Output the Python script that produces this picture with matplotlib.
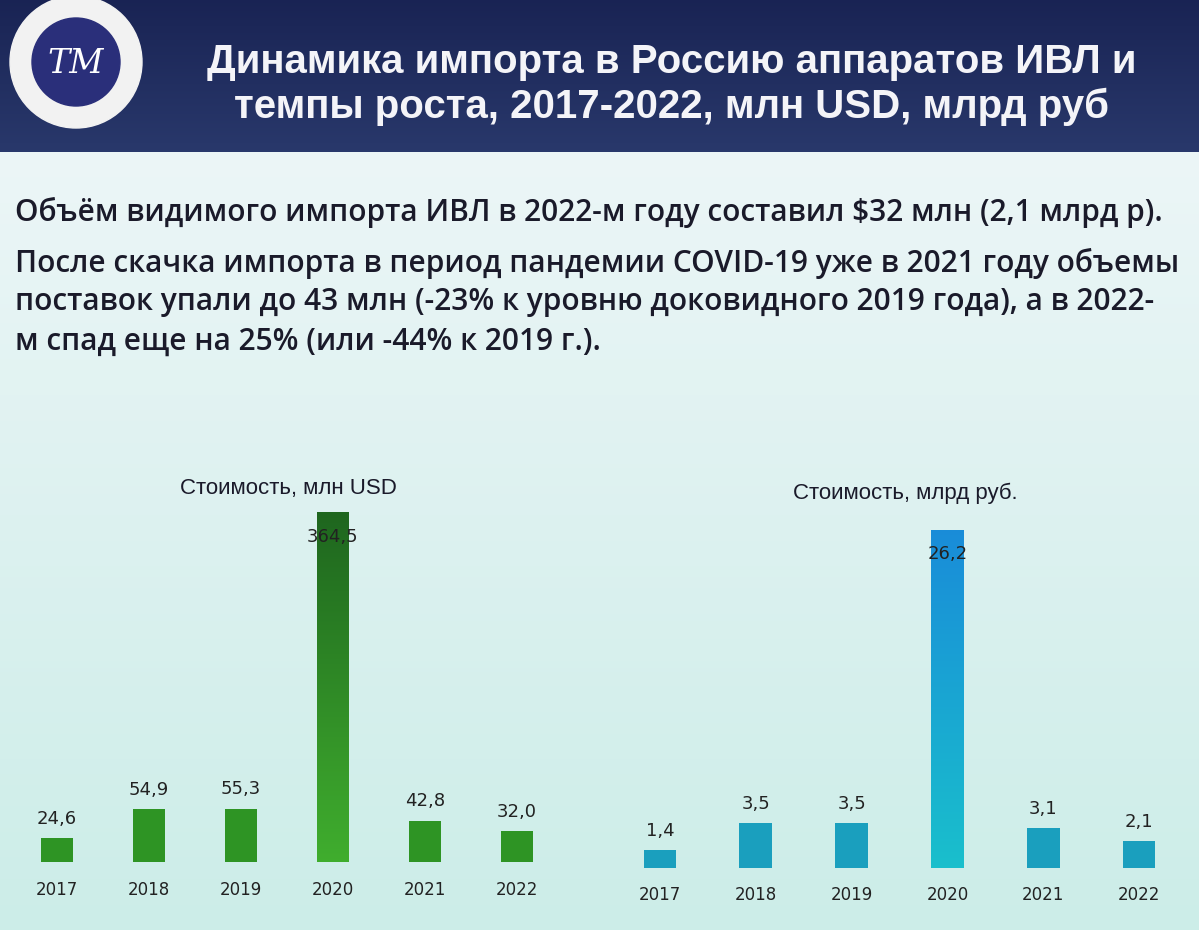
import numpy as np
import matplotlib
matplotlib.use("Agg")
import matplotlib.pyplot as plt
from matplotlib.patches import Circle, Rectangle

years = ["2017", "2018", "2019", "2020", "2021", "2022"]
usd_values = [24.6, 54.9, 55.3, 364.5, 42.8, 32.0]
rub_values = [1.4, 3.5, 3.5, 26.2, 3.1, 2.1]

W, H = 1199, 930
fig = plt.figure(figsize=(W/100, H/100), dpi=100)

# background
bg = fig.add_axes([0, 0, 1, 1]); bg.set_axis_off()
grad = np.linspace(0, 1, 256)[:, None]
cols = np.zeros((256, 1, 3))
top = np.array([0.95, 0.97, 0.98]); bot = np.array([0.80, 0.93, 0.91])
cols[:, 0, :] = top + (bot - top) * grad
bg.imshow(cols, extent=[0, 1, 0, 1], aspect="auto", origin="upper")
hg = np.zeros((64, 1, 3))
hg[:, 0, :] = np.array([0.10, 0.14, 0.33]) + (np.array([0.16, 0.22, 0.42]) - np.array([0.10, 0.14, 0.33])) * np.linspace(0, 1, 64)[:, None]
bg.imshow(hg, extent=[0, 1, 1 - 152/H, 1], aspect="auto", origin="upper")
bg.set_xlim(0, 1); bg.set_ylim(0, 1)

def fx(px): return px / W
def fy(py): return 1 - py / H

fig.text(fx(672), fy(62), "Динамика импорта в Россию аппаратов ИВЛ и", color="#f4f4f8",
         fontsize=29, fontweight="bold", family="Liberation Sans", ha="center", va="center")
fig.text(fx(672), fy(107), "темпы роста, 2017-2022, млн USD, млрд руб", color="#f4f4f8",
         fontsize=29, fontweight="bold", family="Liberation Sans", ha="center", va="center")

# logo
la = fig.add_axes([0, fy(140), fx(155), 140/H]); la.set_axis_off()
la.set_xlim(0, 155); la.set_ylim(140, 0); la.set_aspect("equal")
la.add_patch(Circle((76, 62), 66, color="#f2f2f2"))
la.add_patch(Circle((76, 62), 44, color="#2a2f7a"))
la.text(76, 64, "ТМ", color="white", fontsize=24, style="italic", family="DejaVu Serif", ha="center", va="center")

body = [("Объём видимого импорта ИВЛ в 2022-м году составил $32 млн (2,1 млрд р).", 212),
        ("После скачка импорта в период пандемии COVID-19 уже в 2021 году объемы", 263),
        ("поставок упали до 43 млн (-23% к уровню доковидного 2019 года), а в 2022-", 302),
        ("м спад еще на 25% (или -44% к 2019 г.).", 342)]
for t, y in body:
    fig.text(fx(15), fy(y), t, fontsize=21.5, fontweight="semibold", family="Open Sans", color="#1a1a2a", va="center")

def chart(left, right, base, topy, values, vmax, color, hicolors, title, tx, ty):
    ax = fig.add_axes([fx(left), fy(base), fx(right - left), (base - topy) / H])
    ax.set_axis_off()
    ax.set_xlim(-0.5, len(values) - 0.5)
    ax.set_ylim(0, vmax)
    x = np.arange(len(values))
    bars = ax.bar(x, values, width=0.34, color=color)
    i = int(np.argmax(values))
    b = bars[i]; b.set_alpha(0)
    g = np.linspace(0, 1, 128)[:, None]
    c0, c1 = np.array(hicolors[0]), np.array(hicolors[1])
    gc = np.zeros((128, 1, 3)); gc[:, 0, :] = c0 + (c1 - c0) * g
    ax.imshow(gc, extent=[b.get_x(), b.get_x() + b.get_width(), 0, values[i]], aspect="auto", origin="upper", zorder=3)
    for xi, v in zip(x, values):
        lab = f"{v:.1f}".replace(".", ",")
        if xi == i:
            ax.text(xi, v * 0.93, lab, ha="center", va="center", fontsize=13, color="#222", zorder=4)
        else:
            ax.text(xi, v + vmax * 0.03, lab, ha="center", va="bottom", fontsize=13, color="#222")
        ax.text(xi, -vmax * 0.08, years[xi], ha="center", va="center", fontsize=12, color="#222", clip_on=False)
    fig.text(fx(tx), fy(ty), title, fontsize=16, family="Liberation Sans", color="#1a1a2a", ha="center", va="center")

chart(11, 563, 862, 512, usd_values, 364.5, "#2e9424", [(0.12, 0.40, 0.12), (0.25, 0.68, 0.18)],
      "Стоимость, млн USD", 288, 488)
chart(612, 1187, 868, 530, rub_values, 26.2, "#1a9fbe", [(0.10, 0.55, 0.85), (0.10, 0.75, 0.80)],
      "Стоимость, млрд руб.", 905, 493)

fig.savefig("out.png", dpi=100)
